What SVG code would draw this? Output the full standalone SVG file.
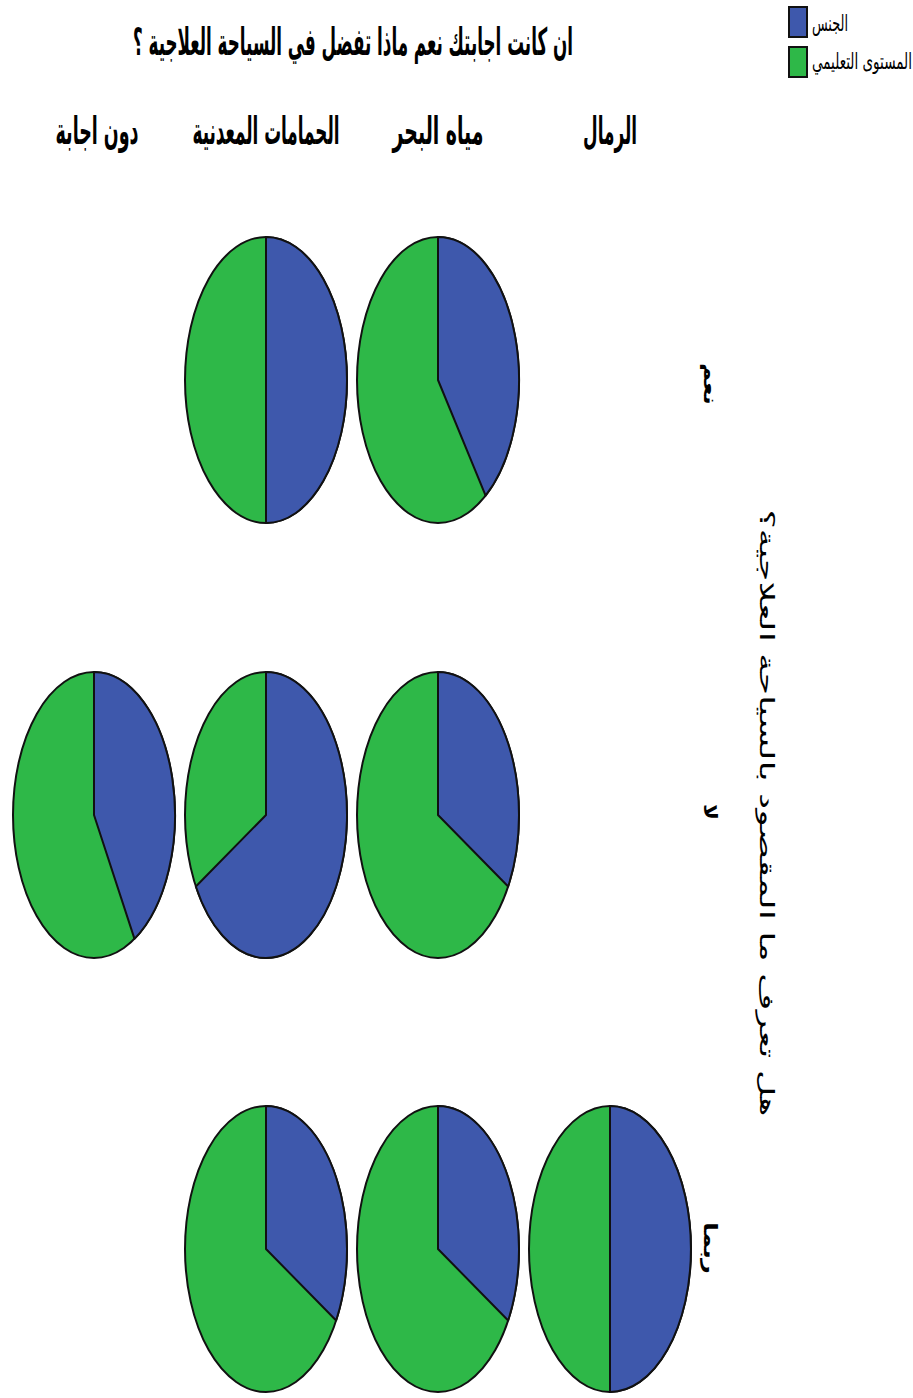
<svg xmlns="http://www.w3.org/2000/svg" width="913" height="1398" viewBox="0 0 913 1398">
<style>
.t{font-family:"DejaVu Sans","Noto Sans",sans-serif;fill:#000}
.b{font-weight:bold}
.g{fill:#2EB848;stroke:#111;stroke-width:2}
.bl{fill:#3E58AC;stroke:#111;stroke-width:2;stroke-linejoin:round}
</style>
<rect width="913" height="1398" fill="#fff"/>
<g id="title">
<text class="t b" transform="translate(353,55) scale(1,1.8)" font-size="21" text-anchor="middle" textLength="440" lengthAdjust="spacingAndGlyphs">ان كانت اجابتك نعم ماذا تفضل في السياحة العلاجية ؟</text>
</g>
<g id="legend">
<rect x="789" y="7" width="18" height="30" fill="#3E58AC" stroke="#111" stroke-width="2"/>
<rect x="789" y="47" width="18" height="30" fill="#2EB848" stroke="#111" stroke-width="2"/>
<text class="t" transform="translate(812,31) scale(1,1.8)" font-size="12.5" textLength="36" lengthAdjust="spacingAndGlyphs">الجنس</text>
<text class="t" transform="translate(812,69) scale(1,1.8)" font-size="12.5" textLength="100" lengthAdjust="spacingAndGlyphs">المستوى التعليمي</text>
</g>
<g id="col-headers">
<text class="t b" transform="translate(610,144) scale(1,1.8)" font-size="21" text-anchor="middle" textLength="54" lengthAdjust="spacingAndGlyphs">الرمال</text>
<text class="t b" transform="translate(438,144) scale(1,1.8)" font-size="21" text-anchor="middle" textLength="91" lengthAdjust="spacingAndGlyphs">مياه البحر</text>
<text class="t b" transform="translate(266,144) scale(1,1.8)" font-size="21" text-anchor="middle" textLength="147" lengthAdjust="spacingAndGlyphs">الحمامات المعدنية</text>
<text class="t b" transform="translate(97,144) scale(1,1.8)" font-size="21" text-anchor="middle" textLength="83" lengthAdjust="spacingAndGlyphs">دون اجابة</text>
</g>
<g id="row-labels">
<text class="t b" transform="translate(704,384) rotate(90)" font-size="18" text-anchor="middle" textLength="42" lengthAdjust="spacingAndGlyphs">نعم</text>
<text class="t b" transform="translate(704,812) rotate(90)" font-size="18" text-anchor="middle" textLength="16" lengthAdjust="spacingAndGlyphs">لا</text>
<text class="t b" transform="translate(704,1248) rotate(90)" font-size="18" text-anchor="middle" textLength="52" lengthAdjust="spacingAndGlyphs">ربما</text>
<text class="t" transform="translate(760,813) rotate(90)" font-size="20" text-anchor="middle" textLength="607" lengthAdjust="spacingAndGlyphs">هل تعرف ما المقصود بالسياحة العلاجية؟</text>
</g>
<g id="pie-r1-c2">
<ellipse class="g" cx="438" cy="380" rx="81" ry="143"/>
<path class="bl" d="M438,380 L438,237 A81,143 0 0 1 485.61,495.69 Z"/>
</g>
<g id="pie-r1-c3">
<ellipse class="g" cx="266" cy="380" rx="81" ry="143"/>
<path class="bl" d="M266,380 L266,237 A81,143 0 0 1 266,523 Z"/>
</g>
<g id="pie-r2-c2">
<ellipse class="g" cx="438" cy="815" rx="81" ry="143"/>
<path class="bl" d="M438,815 L438,672 A81,143 0 0 1 508.15,886.5 Z"/>
</g>
<g id="pie-r2-c3">
<ellipse class="g" cx="266" cy="815" rx="81" ry="143"/>
<path class="bl" d="M266,815 L266,672 A81,143 0 1 1 195.85,886.5 Z"/>
</g>
<g id="pie-r2-c4">
<ellipse class="g" cx="94" cy="815" rx="81" ry="143"/>
<path class="bl" d="M94,815 L94,672 A81,143 0 0 1 134.5,938.84 Z"/>
</g>
<g id="pie-r3-c1">
<ellipse class="g" cx="610" cy="1249" rx="81" ry="143"/>
<path class="bl" d="M610,1249 L610,1106 A81,143 0 0 1 610,1392 Z"/>
</g>
<g id="pie-r3-c2">
<ellipse class="g" cx="438" cy="1249" rx="81" ry="143"/>
<path class="bl" d="M438,1249 L438,1106 A81,143 0 0 1 508.15,1320.5 Z"/>
</g>
<g id="pie-r3-c3">
<ellipse class="g" cx="266" cy="1249" rx="81" ry="143"/>
<path class="bl" d="M266,1249 L266,1106 A81,143 0 0 1 336.15,1320.5 Z"/>
</g>
<g id="connectors"></g>
</svg>
